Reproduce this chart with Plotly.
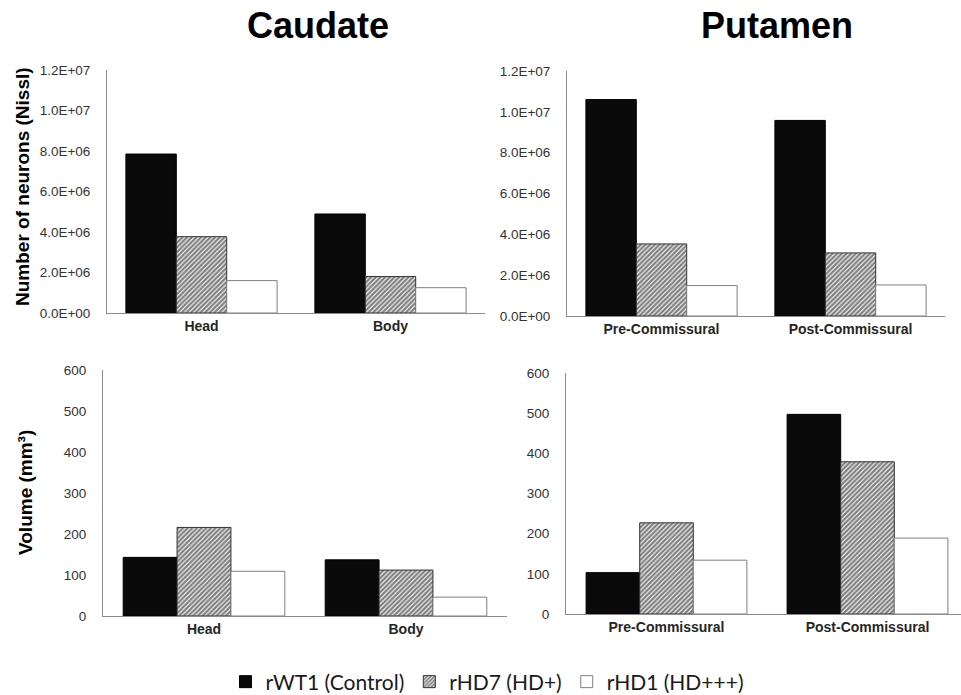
import plotly.graph_objects as go

# ---------------- data ----------------
caudate_regions = ["Head", "Body"]
putamen_regions = ["Pre-Commissural", "Post-Commissural"]
series_names = ["rWT1 (Control)", "rHD7 (HD+)", "rHD1 (HD+++)"]

caudate_neurons = {
    "rWT1 (Control)": [7.85e6, 4.89e6],
    "rHD7 (HD+)": [3.77e6, 1.80e6],
    "rHD1 (HD+++)": [1.60e6, 1.25e6],
}
putamen_neurons = {
    "rWT1 (Control)": [10.6e6, 9.58e6],
    "rHD7 (HD+)": [3.53e6, 3.09e6],
    "rHD1 (HD+++)": [1.49e6, 1.52e6],
}
caudate_volume = {
    "rWT1 (Control)": [143, 137],
    "rHD7 (HD+)": [216, 112],
    "rHD1 (HD+++)": [109, 46],
}
putamen_volume = {
    "rWT1 (Control)": [103, 497],
    "rHD7 (HD+)": [227, 379],
    "rHD1 (HD+++)": [134, 189],
}

neuron_tickvals = [0, 2e6, 4e6, 6e6, 8e6, 10e6, 12e6]
neuron_ticktext = ["0.0E+00", "2.0E+06", "4.0E+06", "6.0E+06", "8.0E+06", "1.0E+07", "1.2E+07"]
volume_tickvals = [0, 100, 200, 300, 400, 500, 600]
volume_ticktext = ["0", "100", "200", "300", "400", "500", "600"]

# ---------------- styles ----------------
W, H = 961, 695
def fx(p):
    return p / W
def fy(p):
    return 1 - p / H

styles = {
    "rWT1 (Control)": dict(color="#0a0a0a", line=dict(color="#000000", width=1)),
    "rHD7 (HD+)": dict(color="#ffffff",
                       pattern=dict(shape="/", fgcolor="#000000", bgcolor="#ffffff", size=3.3, solidity=0.68),
                       line=dict(color="#333333", width=1)),
    "rHD1 (HD+++)": dict(color="#ffffff", line=dict(color="#7f7f7f", width=1)),
}

fig = go.Figure()

panels = [
    ("x", "y", caudate_regions, caudate_neurons, True),
    ("x2", "y2", putamen_regions, putamen_neurons, False),
    ("x3", "y3", caudate_regions, caudate_volume, False),
    ("x4", "y4", putamen_regions, putamen_volume, False),
]
for xa, ya, cats, data, show in panels:
    for name in series_names:
        fig.add_trace(go.Bar(
            x=cats, y=data[name], name=name, xaxis=xa, yaxis=ya,
            marker=styles[name], showlegend=show, legendgroup=name,
        ))

FONT = "Liberation Sans, Arial, sans-serif"
tickfont = dict(family=FONT, size=13.5, color="#333333")
xtickfont = dict(family=FONT, size=14, color="#262626", weight="bold")
axcol = "#8c8c8c"

def xax(x0, x1, y_anchor, rng):
    return dict(domain=[fx(x0), fx(x1)], anchor=y_anchor, range=rng, showline=True,
                linecolor=axcol, linewidth=1, showgrid=False, zeroline=False, ticks="",
                tickfont=xtickfont, automargin=False, fixedrange=True)

def yax(y0, y1, x_anchor, rng, tv, tt):
    return dict(domain=[fy(y1), fy(y0)], anchor=x_anchor, range=rng, showline=True,
                linecolor=axcol, linewidth=1, showgrid=False, zeroline=False, ticks="",
                tickvals=tv, ticktext=tt, tickfont=tickfont, ticklabelstandoff=13,
                automargin=False, fixedrange=True)

def ann(text, x, y, size, angle=0):
    return dict(text=text, x=fx(x), y=fy(y), xref="paper", yref="paper",
                xanchor="center", yanchor="middle", showarrow=False, textangle=angle,
                font=dict(family=FONT, size=size, color="#000"))

fig.update_layout(
    width=W, height=H,
    margin=dict(l=0, r=0, t=0, b=0, autoexpand=False),
    paper_bgcolor="white", plot_bgcolor="white",
    barmode="group", bargap=0.2, bargroupgap=0,
    hovermode=False,
    xaxis=xax(107, 485, "y", [-0.5, 1.5]),
    yaxis=yax(70, 313, "x", [0, 1.2e7], neuron_tickvals, neuron_ticktext),
    xaxis2=xax(567, 945, "y2", [-0.5, 1.5]),
    yaxis2=yax(71, 316, "x2", [0, 1.2e7], neuron_tickvals, neuron_ticktext),
    xaxis3=xax(103, 507, "y3", [-0.5, 1.5]),
    yaxis3=yax(370, 616, "x3", [0, 600], volume_tickvals, volume_ticktext),
    xaxis4=xax(566, 961, "y4", [-0.5, -0.5 + 395 / 201]),
    yaxis4=yax(373, 614, "x4", [0, 600], volume_tickvals, volume_ticktext),
    legend=dict(orientation="h", x=fx(487), xanchor="center", y=fy(682), yanchor="middle",
                font=dict(family="Lato, Liberation Sans, sans-serif", size=21, color="#1a1a1a"),
                bgcolor="rgba(0,0,0,0)", itemwidth=30, traceorder="normal"),
    annotations=[
        ann("<b>Caudate</b>", 318, 25, 36),
        ann("<b>Putamen</b>", 777, 25, 36),
        ann("<b>Number of neurons (Nissl)</b>", 23, 187, 19, -90),
        ann("<b>Volume (mm³)</b>", 25, 493, 19, -90),
    ],
)

fig.write_html("out.html", config={"displayModeBar": False, "staticPlot": True},
               post_script="document.body.style.margin='0px';document.body.style.overflow='hidden';")
